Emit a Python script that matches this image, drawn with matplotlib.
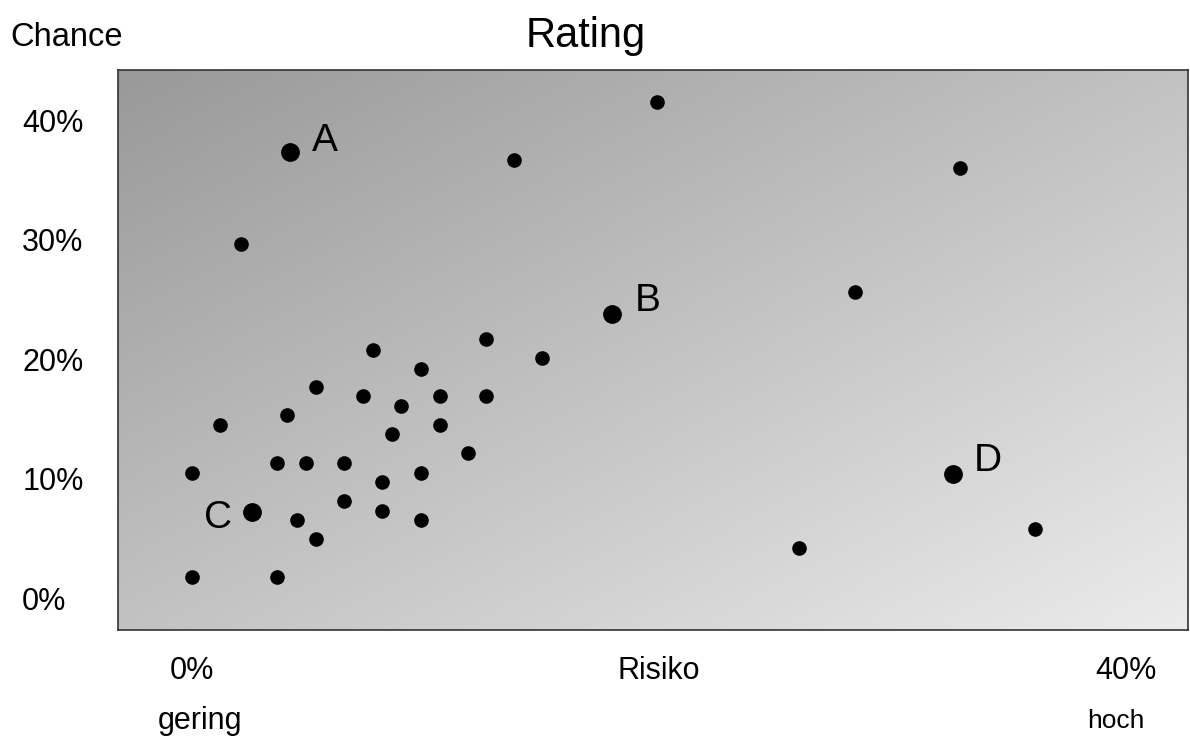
import numpy as np
import matplotlib.pyplot as plt
from matplotlib.colors import LinearSegmentedColormap

plt.rcParams['font.family'] = ['Liberation Sans', 'DejaVu Sans']

# risk (x, %) and chance (y, %) of each position
risk = [19.9, 13.8, 32.9, 2.1, 28.4, 12.6, 7.75, 15.0, 9.8, 5.3, 7.3, 10.6,
        12.6, 8.95, 4.05, 1.2, 10.6, 8.55, 11.8, 3.65, 4.9, 6.5, 0.0, 9.8,
        8.15, 6.5, 8.15, 4.5, 9.8, 36.1, 5.3, 26.0, 0.0, 3.65]
chance = [41.5, 36.7, 36.0, 29.6, 25.6, 21.7, 20.8, 20.1, 19.2, 17.7, 16.9, 16.9,
          16.9, 16.1, 15.3, 14.5, 14.5, 13.7, 12.1, 11.3, 11.3, 11.3, 10.5, 10.5,
          9.7, 8.1, 7.3, 6.5, 6.5, 5.8, 4.9, 4.2, 1.8, 1.8]

# highlighted positions
names = ['A', 'B', 'C', 'D']
named_risk = [4.2, 18.0, 2.55, 32.6]
named_chance = [37.3, 23.8, 7.2, 10.4]
label_offsets = {'A': (16, 8), 'B': (16, 9), 'C': (-14, -4), 'D': (15, 9)}

fig = plt.figure(figsize=(11.9, 7.42), dpi=100)
ax = fig.add_axes([0.0992, 0.1509, 0.8991, 0.7548])
ax.set_xlim(-3.17, 42.65)
ax.set_ylim(-2.68, 44.2)

# diagonal grey gradient background, dark top-left to light bottom-right
u, v = np.meshgrid(np.linspace(0, 1, 300), np.linspace(0, 1, 300))
grad = (u + v) / 2
cmap = LinearSegmentedColormap.from_list('bg', ['#999999', '#ebebeb'])
ax.imshow(grad, cmap=cmap, extent=[0, 1, 0, 1], origin='upper',
          transform=ax.transAxes, aspect='auto', zorder=0)

ax.plot(risk, chance, 'o', color='black', markersize=9.5, zorder=3)
ax.plot(named_risk, named_chance, 'o', color='black', markersize=12.5, zorder=3)
for n, x, y in zip(names, named_risk, named_chance):
    dx, dy = label_offsets[n]
    ax.annotate(n, (x, y), xytext=(dx, dy), textcoords='offset points',
                ha='left' if dx > 0 else 'right', va='center', fontsize=28)

for s in ax.spines.values():
    s.set_color('#333333')
    s.set_linewidth(1.2)

ax.set_xticks([0, 20, 40], ['0%', 'Risiko', '40%'])
ax.set_yticks([0, 10, 20, 30, 40], ['0%', '10%', '20%', '30%', '40%'])
ax.tick_params(length=0, labelsize=22)
ax.tick_params(axis='x', pad=19)
ax.tick_params(axis='y', pad=69)
for lbl in ax.get_yticklabels():
    lbl.set_horizontalalignment('left')

fig.text(586 / 1190, 1 - 36 / 742, 'Rating', ha='center', va='center', fontsize=30)
fig.text(10 / 1190, 1 - 38 / 742, 'Chance', ha='left', va='center', fontsize=23.5)
fig.text(200 / 1190, 1 - 721 / 742, 'gering', ha='center', va='center', fontsize=22)
fig.text(1116 / 1190, 1 - 721 / 742, 'hoch', ha='center', va='center', fontsize=19)

fig.savefig('out.png', dpi=100)
